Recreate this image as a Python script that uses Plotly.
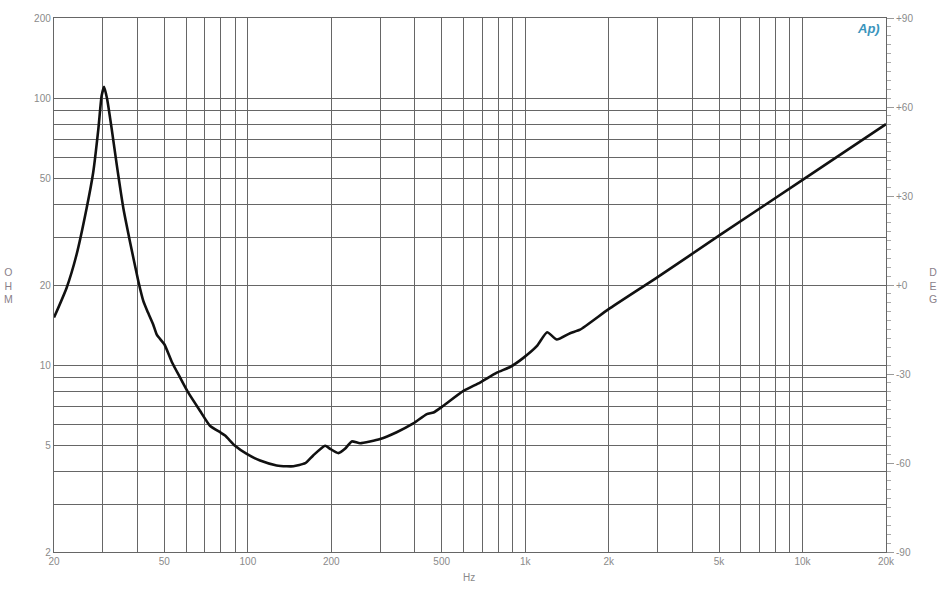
import plotly.graph_objects as go

# Impedance curve (Hz, ohm)
freq_hz = [20, 22.2, 24.1, 26.2, 27.7, 28.9, 29.7, 30.3, 31.1, 32.3, 33.7, 35.6, 37.6,
           40.3, 42.0, 43.6, 45.6, 47.0, 50.0, 53.2, 57.0, 61.0, 67.2, 73.0, 79.4, 82.8,
           89.9, 99.1, 110.7, 127, 138, 146, 161, 172, 190, 198, 212, 224, 237, 254,
           300, 344, 395, 442, 467, 507, 599, 687, 790, 882, 985, 1101, 1200, 1300,
           1452, 1577, 1994, 3021, 5044, 10070, 20000]
impedance_ohm = [15.1, 19.5, 25.9, 38.6, 52.9, 76.7, 102.2, 110.5, 99.3, 76.7, 56.1, 38.6, 29.0,
                 20.6, 17.4, 15.8, 14.2, 13.0, 12.0, 10.3, 9.0, 7.9, 6.76, 5.94, 5.62, 5.46,
                 5.0, 4.66, 4.40, 4.22, 4.19, 4.19, 4.30, 4.60, 5.0, 4.87, 4.69, 4.87, 5.19, 5.11,
                 5.30, 5.62, 6.06, 6.57, 6.66, 7.06, 8.02, 8.62, 9.39, 9.86, 10.67, 11.8, 13.3, 12.5,
                 13.2, 13.6, 16.2, 21.5, 30.8, 49.7, 80.1]

x_major = [20, 50, 100, 200, 500, 1000, 2000, 5000, 10000, 20000]
x_major_text = ["20", "50", "100", "200", "500", "1k", "2k", "5k", "10k", "20k"]
x_minor = [30, 40, 60, 70, 80, 90, 300, 400, 600, 700, 800, 900,
           3000, 4000, 6000, 7000, 8000, 9000]
y_major = [2, 5, 10, 20, 50, 100, 200]
y_major_text = ["2", "5", "10", "20", "50", "100", "200"]
y_minor = [3, 4, 6, 7, 8, 9, 30, 40, 60, 70, 80, 90]
deg_major = [-90, -60, -30, 0, 30, 60, 90]
deg_major_text = ["-90", "-60", "-30", "+0", "+30", "+60", "+90"]

GRID = "#666666"
LABEL = "#8a8a8a"
FONT = "Liberation Sans, Arial, sans-serif"

fig = go.Figure()
fig.add_trace(go.Scatter(x=freq_hz, y=impedance_ohm, mode="lines",
                         line=dict(color="#111111", width=2.6, shape="spline", smoothing=0.5),
                         hoverinfo="skip", showlegend=False))
# invisible trace so the right (phase) axis is drawn
fig.add_trace(go.Scatter(x=[20], y=[0], yaxis="y2", mode="markers",
                         marker=dict(opacity=0), hoverinfo="skip", showlegend=False))

fig.update_layout(
    width=940, height=600,
    margin=dict(l=54, r=54, t=15, b=48),
    paper_bgcolor="white", plot_bgcolor="white",
    font=dict(family=FONT, size=10, color=LABEL),
    xaxis=dict(type="log", range=[1.30103, 4.30103],
               tickmode="array", tickvals=x_major, ticktext=x_major_text,
               showgrid=True, gridcolor=GRID, gridwidth=1.2,
               minor=dict(tickmode="array", tickvals=x_minor, showgrid=True,
                          gridcolor=GRID, gridwidth=1.2, ticks=""),
               showline=True, linecolor=GRID, linewidth=1.4, mirror=True,
               ticks="", zeroline=False, tickfont=dict(size=10, color=LABEL)),
    yaxis=dict(type="log", range=[0.30103, 2.30103],
               tickmode="array", tickvals=y_major, ticktext=y_major_text,
               showgrid=True, gridcolor=GRID, gridwidth=1.2,
               minor=dict(tickmode="array", tickvals=y_minor, showgrid=True,
                          gridcolor=GRID, gridwidth=1.2, ticks=""),
               showline=True, linecolor=GRID, linewidth=1.4, mirror=True,
               ticks="", zeroline=False, tickfont=dict(size=10, color=LABEL)),
    yaxis2=dict(overlaying="y", side="right", range=[-90, 90],
                tickmode="array", tickvals=deg_major, ticktext=deg_major_text,
                ticks="outside", ticklen=7, tickcolor="#9a9a9a", tickwidth=1,
                minor=dict(dtick=3, tick0=0, ticks="outside", ticklen=4,
                           tickcolor="#aaaaaa", tickwidth=1, showgrid=False),
                showgrid=False, zeroline=False, showline=False,
                tickfont=dict(size=10, color=LABEL)),
    annotations=[
        dict(text="O<br>H<br>M", xref="paper", yref="paper", x=-0.0545, y=0.50,
             xanchor="center", yanchor="middle",
             showarrow=False, font=dict(size=10.5, color="#8a7f8a"), align="center"),
        dict(text="D<br>E<br>G", xref="paper", yref="paper", x=1.0565, y=0.50,
             xanchor="center", yanchor="middle",
             showarrow=False, font=dict(size=10.5, color="#8a7f8a"), align="center"),
        dict(text="Hz", xref="paper", yref="paper", x=0.4988, y=-0.047,
             xanchor="center", yanchor="middle",
             showarrow=False, font=dict(size=10, color=LABEL)),
        dict(text="<b><i>Ap)</i></b>", xref="paper", yref="paper", x=0.9955, y=0.98,
             xanchor="right", yanchor="middle",
             showarrow=False, font=dict(size=13, color="#3a95bd")),
    ],
)

fig.write_html("out.html", config={"displayModeBar": False},
               post_script="document.body.style.margin='0';")
